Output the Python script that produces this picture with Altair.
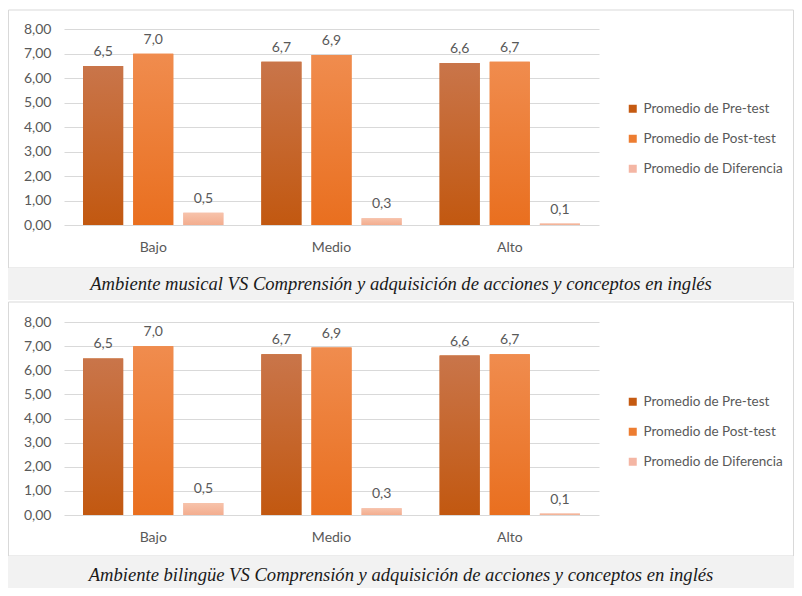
import altair as alt
import pandas as pd

categories = ["Bajo", "Medio", "Alto"]
series = ["Promedio de Pre-test", "Promedio de Post-test", "Promedio de Diferencia"]

p1_pre = [6.49, 6.66, 6.61]
p1_post = [6.99, 6.94, 6.66]
p1_diff = [0.50, 0.28, 0.06]

p2_pre = [6.49, 6.66, 6.61]
p2_post = [6.99, 6.94, 6.66]
p2_diff = [0.50, 0.28, 0.06]

captions = [
    "Ambiente musical VS Comprensión y adquisición de acciones y conceptos en inglés",
    "Ambiente bilingüe VS Comprensión y adquisición de acciones y conceptos en inglés",
]
y_ticks = [0, 1, 2, 3, 4, 5, 6, 7, 8]
legend_colors = ["#c55a11", "#ed7d31", "#f4b6a4"]
grad_colors = [("#c9754a", "#c25810"), ("#f08c4e", "#e96f1f"), ("#f7c3ab", "#f3ad8f")]

FONT = "Lato"
TXT = "#595959"


def make_df(pre, post, diff):
    rows = []
    for i, c in enumerate(categories):
        for s, vals in zip(series, [pre, post, diff]):
            rows.append({"cat": c, "serie": s, "v": vals[i]})
    return pd.DataFrame(rows)


def panel(df, h, spacer_top, box_top, box_bottom, band_bottom, cap_y, caption):
    x = alt.X("cat:N", sort=categories,
              scale=alt.Scale(domain=categories, paddingInner=0.213, paddingOuter=0.107),
              axis=alt.Axis(title=None, domain=False, ticks=False, tickSize=0, labelPadding=15,
                            labelAngle=0, labelFontSize=14, labelColor=TXT, labelFont=FONT, grid=False))
    xo = alt.XOffset("serie:N", sort=series,
                     scale=alt.Scale(domain=series, paddingInner=0.2, paddingOuter=0))
    y = alt.Y("v:Q", scale=alt.Scale(domain=[0, 8], nice=False),
              axis=alt.Axis(values=y_ticks, title=None, domain=False, ticks=False, tickSize=0,
                            labelPadding=13, labelFontSize=14, labelColor=TXT, labelFont=FONT,
                            gridColor="#d9d9d9", gridWidth=1,
                            labelExpr="replace(format(datum.value, '.2f'), '.', ',')"))

    deco = alt.Chart(alt.Data(values=[{}]))
    spacer = deco.mark_rect(fill="transparent").encode(
        x=alt.value(-56), x2=alt.value(730), y=alt.value(spacer_top), y2=alt.value(box_top))
    box = deco.mark_rect(fill="transparent", stroke="#d9d9d9", strokeWidth=1).encode(
        x=alt.value(-55.5), x2=alt.value(729.5), y=alt.value(box_top), y2=alt.value(box_bottom))
    band = deco.mark_rect(fill="#f2f2f2").encode(
        x=alt.value(-56), x2=alt.value(730), y=alt.value(box_bottom), y2=alt.value(band_bottom))
    cap = deco.mark_text(font="Liberation Serif", fontStyle="italic", fontSize=18.6,
                         color="#1a1a1a", align="center", baseline="middle").encode(
        x=alt.value(337), y=alt.value(cap_y), text=alt.value(caption))

    base = alt.Chart(df)
    legend_bars = base.mark_bar().encode(
        x=x, xOffset=xo, y=y,
        color=alt.Color("serie:N", sort=series,
                        scale=alt.Scale(domain=series, range=legend_colors),
                        legend=alt.Legend(title=None, orient="none", legendX=562, legendY=73,
                                          symbolType="square", symbolSize=64, symbolStrokeWidth=0,
                                          labelFont=FONT, labelFontSize=13.5, labelColor=TXT,
                                          rowPadding=15, labelOffset=4, padding=0)))
    layers = [spacer, box, band, cap, legend_bars]
    for s, (c_top, c_bot) in zip(series, grad_colors):
        grad = {"gradient": "linear", "x1": 0, "y1": 0, "x2": 0, "y2": 1,
                "stops": [{"offset": 0, "color": c_top}, {"offset": 1, "color": c_bot}]}
        layers.append(base.transform_filter(alt.datum.serie == s)
                      .mark_bar(fill=grad).encode(x=x, xOffset=xo, y=y))
    labels = base.transform_calculate(
        lbl="replace(format(datum.v, '.1f'), '.', ',')"
    ).mark_text(dy=-14, font=FONT, fontSize=14, color=TXT).encode(
        x=x, xOffset=xo, y=y, text="lbl:N")
    layers.append(labels)
    return alt.layer(*layers).properties(width=535, height=h)


top = panel(make_df(p1_pre, p1_post, p1_diff), 196, -21, -19, 239, 271, 255, captions[0])
bottom = panel(make_df(p2_pre, p2_post, p2_diff), 193, -22, -20, 234, 266, 253, captions[1])

chart = alt.vconcat(top, bottom, spacing=0).resolve_scale(
    color="independent", x="independent", y="independent", xOffset="independent"
).resolve_legend(color="independent").configure_view(stroke=None).properties(
    background="white", padding=0)

chart.save("out.html", embed_options={"renderer": "svg", "actions": False})
